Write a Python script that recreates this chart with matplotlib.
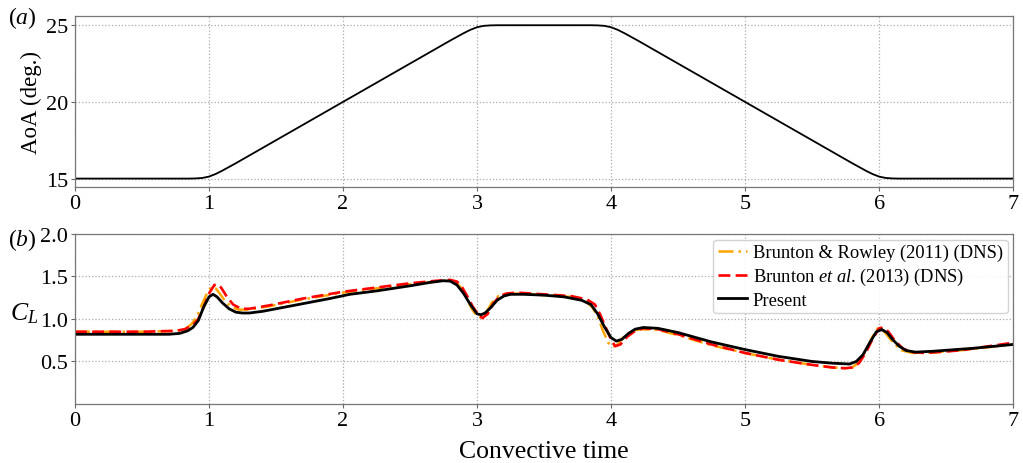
import numpy as np
import matplotlib
matplotlib.use("Agg")
import matplotlib.pyplot as plt

plt.rcParams["font.family"] = ["Liberation Serif", "DejaVu Serif"]
plt.rcParams["mathtext.fontset"] = "custom"
plt.rcParams["mathtext.rm"] = "Liberation Serif"
plt.rcParams["mathtext.it"] = "Liberation Serif:italic"

# (a) pitch schedule: angle of attack vs convective time
t_aoa = [0.0, 0.85, 0.90, 0.95, 1.00, 1.05, 1.10, 1.15, 1.20,
         2.80, 2.85, 2.90, 2.95, 3.00, 3.05, 3.10, 3.15,
         3.85, 3.90, 3.95, 4.00, 4.05, 4.10, 4.15, 4.20,
         5.80, 5.85, 5.90, 5.95, 6.00, 6.05, 6.10, 6.15, 7.0]
aoa = [15.0, 15.0, 15.01, 15.04, 15.13, 15.30, 15.52, 15.76, 16.0,
       24.0, 24.24, 24.48, 24.70, 24.87, 24.96, 24.99, 25.0,
       25.0, 24.99, 24.96, 24.87, 24.70, 24.48, 24.24, 24.0,
       16.0, 15.76, 15.52, 15.30, 15.13, 15.04, 15.01, 15.0, 15.0]

# (b) lift coefficient, Brunton & Rowley (2011) DNS
t_br11 = [0.0, 0.50, 0.75, 0.82, 0.87, 0.91, 0.95, 0.99, 1.02, 1.05, 1.08, 1.12,
          1.17, 1.22, 1.30, 1.45, 1.70, 2.00, 2.25, 2.50, 2.70, 2.78, 2.84, 2.88,
          2.92, 2.96, 3.00, 3.03, 3.07, 3.11, 3.16, 3.22, 3.30, 3.50, 3.70, 3.80,
          3.86, 3.90, 3.94, 3.98, 4.01, 4.05, 4.10, 4.16, 4.22, 4.35, 4.50, 4.75,
          5.00, 5.25, 5.50, 5.65, 5.75, 5.80, 5.85, 5.90, 5.95, 5.99, 6.02, 6.06,
          6.11, 6.17, 6.25, 6.35, 6.60, 7.0]
cl_br11 = [0.85, 0.85, 0.86, 0.88, 0.94, 1.03, 1.18, 1.32, 1.38, 1.36, 1.30, 1.21,
           1.14, 1.11, 1.11, 1.15, 1.23, 1.31, 1.36, 1.41, 1.44, 1.45, 1.43, 1.37,
           1.26, 1.12, 1.03, 1.02, 1.08, 1.19, 1.27, 1.29, 1.30, 1.28, 1.26, 1.22,
           1.14, 1.03, 0.86, 0.72, 0.67, 0.70, 0.80, 0.86, 0.88, 0.87, 0.81, 0.69,
           0.60, 0.52, 0.46, 0.43, 0.42, 0.43, 0.49, 0.62, 0.79, 0.89, 0.88, 0.81,
           0.71, 0.63, 0.60, 0.60, 0.63, 0.70]

# (b) lift coefficient, Brunton et al. (2013) DNS
t_b13 = [0.0, 0.50, 0.75, 0.82, 0.88, 0.92, 0.96, 1.00, 1.04, 1.06, 1.09, 1.13,
         1.18, 1.24, 1.30, 1.45, 1.70, 2.00, 2.25, 2.50, 2.70, 2.80, 2.85, 2.89,
         2.93, 2.97, 3.01, 3.04, 3.08, 3.12, 3.17, 3.22, 3.30, 3.50, 3.70, 3.82,
         3.88, 3.92, 3.96, 4.00, 4.03, 4.07, 4.12, 4.18, 4.24, 4.35, 4.50, 4.75,
         5.00, 5.25, 5.50, 5.65, 5.75, 5.80, 5.85, 5.90, 5.95, 6.00, 6.03, 6.07,
         6.12, 6.18, 6.25, 6.35, 6.60, 7.0]
cl_b13 = [0.85, 0.85, 0.86, 0.88, 0.93, 1.00, 1.14, 1.30, 1.40, 1.41, 1.37, 1.27,
          1.17, 1.12, 1.12, 1.16, 1.24, 1.32, 1.37, 1.42, 1.45, 1.46, 1.44, 1.37,
          1.26, 1.14, 1.05, 1.01, 1.06, 1.18, 1.27, 1.30, 1.31, 1.29, 1.27, 1.23,
          1.17, 1.05, 0.90, 0.76, 0.68, 0.70, 0.79, 0.86, 0.89, 0.88, 0.82, 0.70,
          0.60, 0.52, 0.46, 0.43, 0.42, 0.43, 0.48, 0.60, 0.76, 0.89, 0.90, 0.85,
          0.74, 0.65, 0.61, 0.60, 0.63, 0.72]

# (b) lift coefficient, present solver
t_pr = [0.0, 0.50, 0.70, 0.78, 0.84, 0.88, 0.92, 0.96, 1.00, 1.03, 1.06, 1.10,
        1.15, 1.20, 1.25, 1.30, 1.40, 1.50, 1.70, 1.90, 2.05, 2.25, 2.50, 2.65,
        2.75, 2.80, 2.85, 2.90, 2.95, 3.00, 3.03, 3.06, 3.10, 3.15, 3.20, 3.25,
        3.35, 3.50, 3.65, 3.78, 3.85, 3.90, 3.95, 4.00, 4.04, 4.08, 4.13, 4.18,
        4.24, 4.35, 4.50, 4.75, 5.00, 5.25, 5.50, 5.65, 5.78, 5.83, 5.88, 5.93,
        5.98, 6.02, 6.06, 6.10, 6.15, 6.20, 6.27, 6.40, 6.70, 7.0]
cl_pr = [0.82, 0.82, 0.82, 0.83, 0.86, 0.90, 0.98, 1.14, 1.26, 1.29, 1.26, 1.19,
         1.12, 1.08, 1.07, 1.07, 1.09, 1.12, 1.18, 1.24, 1.29, 1.33, 1.39, 1.43,
         1.45, 1.445, 1.40, 1.30, 1.17, 1.06, 1.05, 1.07, 1.13, 1.22, 1.27, 1.29,
         1.29, 1.28, 1.26, 1.22, 1.17, 1.06, 0.91, 0.78, 0.74, 0.76, 0.83, 0.88,
         0.90, 0.89, 0.84, 0.73, 0.64, 0.56, 0.50, 0.48, 0.47, 0.50, 0.58, 0.72,
         0.85, 0.875, 0.84, 0.76, 0.68, 0.63, 0.61, 0.62, 0.655, 0.70]

fig = plt.figure(figsize=(10.23, 4.64), dpi=100)
ax1 = fig.add_axes([0.0733, 0.5948, 0.917, 0.3685])
ax2 = fig.add_axes([0.0733, 0.1272, 0.917, 0.3664])

for ax in (ax1, ax2):
    ax.set_xlim(0, 7)
    ax.set_xticks(range(8))
    ax.grid(True, linestyle=":", color="#aaaaaa", linewidth=0.9)
    ax.tick_params(labelsize=16, length=3, width=0.8, color="#666666", pad=2)
    for s in ax.spines.values():
        s.set_color("#777777")
        s.set_linewidth(0.9)

ax1.plot(t_aoa, aoa, color="black", lw=1.3)
ax1.set_ylim(14.45, 25.6)
ax1.set_yticks([15, 20, 25])
ax1.set_ylabel("AoA (deg.)", fontsize=16.5, labelpad=3)

ax2.plot(t_br11, cl_br11, color="orange", lw=1.8, ls=(0, (6, 2, 1, 2)),
         label="Brunton & Rowley (2011) (DNS)")
ax2.plot(t_b13, cl_b13, color="red", lw=1.9, ls=(0, (4.5, 2)),
         label=r"Brunton $\mathit{et\ al}$. (2013) (DNS)")
ax2.plot(t_pr, cl_pr, color="black", lw=2.0, label="Present")
ax2.set_ylim(0, 2.0)
ax2.set_yticks([0.5, 1.0, 1.5, 2.0])
ax2.set_xlabel("Convective time", fontsize=18.5, labelpad=7)
ax2.legend(loc="upper right", fontsize=13.3, framealpha=0.85, edgecolor="#cccccc",
           handlelength=1.6, handletextpad=0.3, borderpad=0.25, labelspacing=0.25,
           borderaxespad=0.3)

fig.text(0.008, 0.962, r"($\mathit{a}$)", fontsize=17, ha="left", va="center")
fig.text(0.008, 0.483, r"($\mathit{b}$)", fontsize=17, ha="left", va="center")
fig.text(0.024, 0.325, r"$C_L$", fontsize=18.5, ha="center", va="center")

fig.savefig("out.png", dpi=100)
